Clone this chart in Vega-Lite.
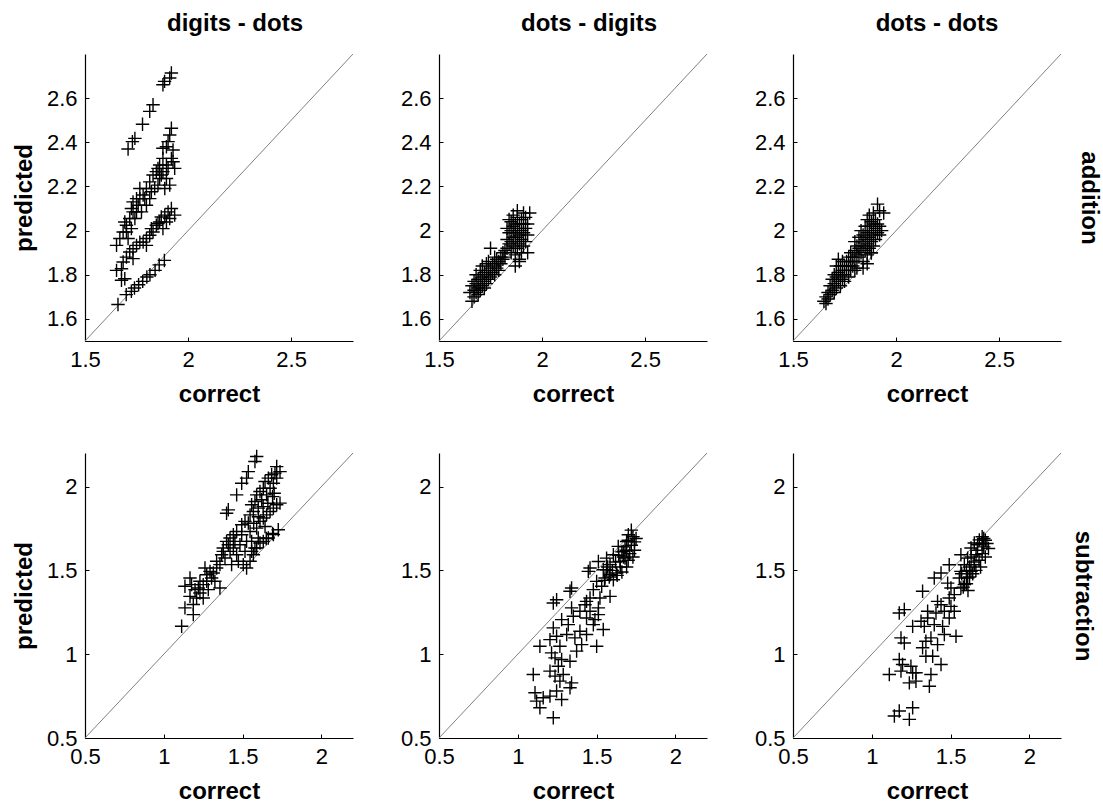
{
"$schema": "https://vega.github.io/schema/vega-lite/v6.json",
"background": "white",
"padding": {"left": 12, "top": 11, "right": 5, "bottom": 0},
"config": {
  "view": {"stroke": null},
  "axis": {"grid": false, "domainColor": "#000000", "domainWidth": 1.2, "tickColor": "#000000", "tickSize": -4, "tickWidth": 1, "labelFont": "Liberation Sans", "labelFontSize": 22, "labelColor": "#000000", "labelPadding": 12, "labelFlush": false, "labelOverlap": false, "titleFont": "Liberation Sans", "titleFontSize": 24, "titleFontWeight": "bold", "titleColor": "#000000"},
  "title": {"font": "Liberation Sans", "fontSize": 24, "fontWeight": "bold", "color": "#000000", "frame": "group", "baseline": "alphabetic", "offset": 18}
},
"datasets": {
  "diag1": [{"lo": 1.5, "hi": 2.8}],
  "diag2": [{"lo": 0.5, "hi": 2.2}],
  "d1": [
    {"correct":1.919,"predicted":2.714},{"correct":1.911,"predicted":2.691},{"correct":1.886,"predicted":2.676},{"correct":1.878,"predicted":2.661},{"correct":1.830,"predicted":2.570},{"correct":1.814,"predicted":2.540},{"correct":1.779,"predicted":2.482},{"correct":1.742,"predicted":2.418},{"correct":1.730,"predicted":2.403},{"correct":1.709,"predicted":2.370},
    {"correct":1.919,"predicted":2.464},{"correct":1.911,"predicted":2.433},{"correct":1.903,"predicted":2.403},{"correct":1.927,"predicted":2.365},{"correct":1.895,"predicted":2.380},{"correct":1.878,"predicted":2.327},{"correct":1.919,"predicted":2.327},{"correct":1.935,"predicted":2.282},{"correct":1.862,"predicted":2.297},{"correct":1.846,"predicted":2.267},{"correct":1.870,"predicted":2.252},{"correct":1.895,"predicted":2.236},{"correct":1.911,"predicted":2.206},{"correct":1.887,"predicted":2.191},{"correct":1.854,"predicted":2.206},{"correct":1.830,"predicted":2.252},{"correct":1.814,"predicted":2.221},{"correct":1.798,"predicted":2.191},{"correct":1.782,"predicted":2.161},{"correct":1.766,"predicted":2.191},{"correct":1.750,"predicted":2.145},{"correct":1.733,"predicted":2.130},{"correct":1.758,"predicted":2.115},{"correct":1.774,"predicted":2.085},{"correct":1.733,"predicted":2.085},{"correct":1.717,"predicted":2.055},{"correct":1.701,"predicted":2.024},{"correct":1.685,"predicted":1.994},{"correct":1.725,"predicted":2.009},{"correct":1.709,"predicted":1.964},{"correct":1.669,"predicted":1.964},{"correct":1.653,"predicted":1.933},{"correct":1.693,"predicted":2.039},{"correct":1.742,"predicted":2.055},{"correct":1.798,"predicted":2.115},{"correct":1.822,"predicted":2.176},{"correct":1.862,"predicted":2.236},{"correct":1.895,"predicted":2.297},{"correct":1.878,"predicted":2.373},{"correct":1.903,"predicted":2.282},{"correct":1.838,"predicted":2.191},{"correct":1.766,"predicted":2.145},{"correct":1.750,"predicted":2.085},{"correct":1.701,"predicted":1.994},{"correct":1.725,"predicted":2.100},{"correct":1.790,"predicted":2.145},{"correct":1.854,"predicted":2.282},{"correct":1.878,"predicted":2.267},{"correct":1.927,"predicted":2.312},{"correct":1.814,"predicted":2.145},
    {"correct":1.653,"predicted":1.820},{"correct":1.677,"predicted":1.827},{"correct":1.685,"predicted":1.858},{"correct":1.701,"predicted":1.880},{"correct":1.717,"predicted":1.903},{"correct":1.733,"predicted":1.918},{"correct":1.750,"predicted":1.933},{"correct":1.766,"predicted":1.948},{"correct":1.782,"predicted":1.948},{"correct":1.798,"predicted":1.964},{"correct":1.814,"predicted":1.979},{"correct":1.822,"predicted":2.009},{"correct":1.830,"predicted":1.994},{"correct":1.846,"predicted":2.024},{"correct":1.862,"predicted":2.039},{"correct":1.870,"predicted":2.062},{"correct":1.887,"predicted":2.070},{"correct":1.903,"predicted":2.085},{"correct":1.919,"predicted":2.100},{"correct":1.935,"predicted":2.070},{"correct":1.911,"predicted":2.055},{"correct":1.895,"predicted":2.039},{"correct":1.878,"predicted":2.009},{"correct":1.854,"predicted":2.032},{"correct":1.798,"predicted":1.933},{"correct":1.733,"predicted":1.873},{"correct":1.693,"predicted":1.782},{"correct":1.677,"predicted":1.775},
    {"correct":1.660,"predicted":1.665},{"correct":1.700,"predicted":1.710},{"correct":1.725,"predicted":1.725},{"correct":1.740,"predicted":1.740},{"correct":1.760,"predicted":1.755},{"correct":1.780,"predicted":1.770},{"correct":1.800,"predicted":1.790},{"correct":1.815,"predicted":1.800},{"correct":1.840,"predicted":1.820},{"correct":1.860,"predicted":1.845},{"correct":1.885,"predicted":1.865}
  ],
  "d2": [
    {"correct":1.65,"predicted":1.72},{"correct":1.66,"predicted":1.68},{"correct":1.66,"predicted":1.75},{"correct":1.67,"predicted":1.70},{"correct":1.67,"predicted":1.73},{"correct":1.67,"predicted":1.77},{"correct":1.68,"predicted":1.72},{"correct":1.68,"predicted":1.76},{"correct":1.68,"predicted":1.80},{"correct":1.69,"predicted":1.71},{"correct":1.69,"predicted":1.74},{"correct":1.69,"predicted":1.78},{"correct":1.70,"predicted":1.73},{"correct":1.70,"predicted":1.76},{"correct":1.70,"predicted":1.82},{"correct":1.71,"predicted":1.75},{"correct":1.71,"predicted":1.79},{"correct":1.71,"predicted":1.84},{"correct":1.72,"predicted":1.74},{"correct":1.72,"predicted":1.77},{"correct":1.72,"predicted":1.81},{"correct":1.73,"predicted":1.76},{"correct":1.73,"predicted":1.80},{"correct":1.73,"predicted":1.85},{"correct":1.74,"predicted":1.78},{"correct":1.74,"predicted":1.82},{"correct":1.74,"predicted":1.86},{"correct":1.75,"predicted":1.79},{"correct":1.75,"predicted":1.83},{"correct":1.75,"predicted":1.92},{"correct":1.76,"predicted":1.81},{"correct":1.76,"predicted":1.85},{"correct":1.77,"predicted":1.80},{"correct":1.77,"predicted":1.84},{"correct":1.77,"predicted":1.88},{"correct":1.78,"predicted":1.83},{"correct":1.78,"predicted":1.87},{"correct":1.79,"predicted":1.86},{"correct":1.79,"predicted":1.82},{"correct":1.80,"predicted":1.88},{"correct":1.80,"predicted":1.85},{"correct":1.81,"predicted":1.87},{"correct":1.81,"predicted":1.90},{"correct":1.82,"predicted":1.88},{"correct":1.82,"predicted":1.91},
    {"correct":1.83,"predicted":1.92},{"correct":1.83,"predicted":1.96},{"correct":1.83,"predicted":2.01},{"correct":1.84,"predicted":1.94},{"correct":1.84,"predicted":1.99},{"correct":1.84,"predicted":2.05},{"correct":1.85,"predicted":1.90},{"correct":1.85,"predicted":1.95},{"correct":1.85,"predicted":2.00},{"correct":1.85,"predicted":2.04},{"correct":1.86,"predicted":1.93},{"correct":1.86,"predicted":1.97},{"correct":1.86,"predicted":2.02},{"correct":1.86,"predicted":2.07},{"correct":1.87,"predicted":1.89},{"correct":1.87,"predicted":1.95},{"correct":1.87,"predicted":1.99},{"correct":1.87,"predicted":2.03},{"correct":1.88,"predicted":1.92},{"correct":1.88,"predicted":1.97},{"correct":1.88,"predicted":2.01},{"correct":1.88,"predicted":2.06},{"correct":1.88,"predicted":2.09},{"correct":1.89,"predicted":1.86},{"correct":1.89,"predicted":1.94},{"correct":1.89,"predicted":1.98},{"correct":1.89,"predicted":2.03},{"correct":1.90,"predicted":1.90},{"correct":1.90,"predicted":1.96},{"correct":1.90,"predicted":2.00},{"correct":1.90,"predicted":2.05},{"correct":1.91,"predicted":1.93},{"correct":1.91,"predicted":1.99},{"correct":1.91,"predicted":2.03},{"correct":1.91,"predicted":2.08},{"correct":1.92,"predicted":1.95},{"correct":1.92,"predicted":2.01},{"correct":1.92,"predicted":2.06},{"correct":1.93,"predicted":1.90},{"correct":1.93,"predicted":1.98},{"correct":1.93,"predicted":2.03},{"correct":1.94,"predicted":2.08},{"correct":1.87,"predicted":1.84},{"correct":1.89,"predicted":1.87}
  ],
  "d3": [
    {"correct":1.65,"predicted":1.68},{"correct":1.66,"predicted":1.70},{"correct":1.66,"predicted":1.67},{"correct":1.67,"predicted":1.72},{"correct":1.67,"predicted":1.69},{"correct":1.68,"predicted":1.75},{"correct":1.68,"predicted":1.71},{"correct":1.69,"predicted":1.78},{"correct":1.69,"predicted":1.73},{"correct":1.70,"predicted":1.76},{"correct":1.70,"predicted":1.80},{"correct":1.70,"predicted":1.72},{"correct":1.71,"predicted":1.74},{"correct":1.71,"predicted":1.79},{"correct":1.71,"predicted":1.84},{"correct":1.72,"predicted":1.77},{"correct":1.72,"predicted":1.81},{"correct":1.72,"predicted":1.87},{"correct":1.73,"predicted":1.75},{"correct":1.73,"predicted":1.80},{"correct":1.73,"predicted":1.84},{"correct":1.74,"predicted":1.78},{"correct":1.74,"predicted":1.82},{"correct":1.74,"predicted":1.86},{"correct":1.75,"predicted":1.80},{"correct":1.75,"predicted":1.84},{"correct":1.75,"predicted":1.77},{"correct":1.76,"predicted":1.82},{"correct":1.76,"predicted":1.86},{"correct":1.77,"predicted":1.79},{"correct":1.77,"predicted":1.84},{"correct":1.77,"predicted":1.88},{"correct":1.78,"predicted":1.82},{"correct":1.78,"predicted":1.86},{"correct":1.78,"predicted":1.90},{"correct":1.79,"predicted":1.84},{"correct":1.79,"predicted":1.88},{"correct":1.80,"predicted":1.86},{"correct":1.80,"predicted":1.91},{"correct":1.80,"predicted":1.95},{"correct":1.81,"predicted":1.83},{"correct":1.81,"predicted":1.89},{"correct":1.81,"predicted":1.93},{"correct":1.82,"predicted":1.88},{"correct":1.82,"predicted":1.92},{"correct":1.82,"predicted":1.97},{"correct":1.83,"predicted":1.90},{"correct":1.83,"predicted":1.95},{"correct":1.83,"predicted":2.00},{"correct":1.84,"predicted":1.86},{"correct":1.84,"predicted":1.93},{"correct":1.84,"predicted":1.98},{"correct":1.85,"predicted":1.91},{"correct":1.85,"predicted":1.96},{"correct":1.85,"predicted":2.02},{"correct":1.86,"predicted":1.89},{"correct":1.86,"predicted":1.94},{"correct":1.86,"predicted":1.99},{"correct":1.86,"predicted":2.05},{"correct":1.87,"predicted":1.92},{"correct":1.87,"predicted":1.97},{"correct":1.87,"predicted":2.02},{"correct":1.87,"predicted":2.07},{"correct":1.88,"predicted":1.90},{"correct":1.88,"predicted":1.95},{"correct":1.88,"predicted":2.00},{"correct":1.88,"predicted":2.04},{"correct":1.89,"predicted":1.93},{"correct":1.89,"predicted":1.98},{"correct":1.89,"predicted":2.03},{"correct":1.89,"predicted":2.08},{"correct":1.90,"predicted":1.96},{"correct":1.90,"predicted":2.01},{"correct":1.90,"predicted":2.05},{"correct":1.91,"predicted":1.99},{"correct":1.91,"predicted":2.03},{"correct":1.91,"predicted":2.12},{"correct":1.92,"predicted":1.98},{"correct":1.92,"predicted":2.02},{"correct":1.92,"predicted":2.09},{"correct":1.93,"predicted":2.00},{"correct":1.94,"predicted":2.08},{"correct":1.84,"predicted":1.83},{"correct":1.86,"predicted":1.85},{"correct":1.80,"predicted":1.82},{"correct":1.88,"predicted":1.90}
  ],
  "d4": [
    {"correct":1.113,"predicted":1.167},{"correct":1.134,"predicted":1.405},{"correct":1.166,"predicted":1.454},{"correct":1.134,"predicted":1.276},{"correct":1.166,"predicted":1.345},{"correct":1.187,"predicted":1.296},{"correct":1.187,"predicted":1.236},{"correct":1.208,"predicted":1.335},{"correct":1.219,"predicted":1.395},{"correct":1.229,"predicted":1.365},{"correct":1.250,"predicted":1.415},{"correct":1.250,"predicted":1.335},{"correct":1.272,"predicted":1.435},{"correct":1.282,"predicted":1.385},{"correct":1.303,"predicted":1.454},{"correct":1.314,"predicted":1.484},{"correct":1.335,"predicted":1.514},{"correct":1.324,"predicted":1.435},{"correct":1.356,"predicted":1.395},{"correct":1.335,"predicted":1.554},{"correct":1.356,"predicted":1.534},{"correct":1.377,"predicted":1.613},{"correct":1.388,"predicted":1.574},{"correct":1.409,"predicted":1.653},{"correct":1.420,"predicted":1.613},{"correct":1.441,"predicted":1.633},{"correct":1.451,"predicted":1.673},{"correct":1.462,"predicted":1.593},{"correct":1.430,"predicted":1.534},{"correct":1.483,"predicted":1.653},{"correct":1.473,"predicted":1.554},{"correct":1.504,"predicted":1.534},{"correct":1.525,"predicted":1.514},{"correct":1.494,"predicted":1.772},{"correct":1.515,"predicted":1.792},{"correct":1.536,"predicted":1.782},{"correct":1.547,"predicted":1.831},{"correct":1.557,"predicted":1.891},{"correct":1.578,"predicted":1.911},{"correct":1.589,"predicted":1.950},{"correct":1.610,"predicted":1.970},{"correct":1.631,"predicted":1.990},{"correct":1.642,"predicted":2.030},{"correct":1.663,"predicted":2.050},{"correct":1.684,"predicted":2.070},{"correct":1.705,"predicted":2.080},{"correct":1.695,"predicted":2.020},{"correct":1.674,"predicted":1.990},{"correct":1.652,"predicted":1.950},{"correct":1.621,"predicted":1.921},{"correct":1.599,"predicted":1.871},{"correct":1.568,"predicted":1.851},{"correct":1.716,"predicted":2.119},{"correct":1.737,"predicted":2.089},{"correct":1.716,"predicted":2.050},{"correct":1.578,"predicted":2.149},{"correct":1.589,"predicted":2.179},{"correct":1.536,"predicted":2.089},{"correct":1.525,"predicted":2.050},{"correct":1.494,"predicted":2.020},{"correct":1.462,"predicted":1.950},{"correct":1.409,"predicted":1.861},{"correct":1.398,"predicted":1.841},{"correct":1.547,"predicted":1.732},{"correct":1.589,"predicted":1.752},{"correct":1.610,"predicted":1.792},{"correct":1.631,"predicted":1.812},{"correct":1.652,"predicted":1.831},{"correct":1.674,"predicted":1.851},{"correct":1.695,"predicted":1.871},{"correct":1.716,"predicted":1.891},{"correct":1.737,"predicted":1.901},{"correct":1.642,"predicted":1.762},{"correct":1.599,"predicted":1.693},{"correct":1.631,"predicted":1.673},{"correct":1.663,"predicted":1.693},{"correct":1.695,"predicted":1.713},{"correct":1.726,"predicted":1.742},{"correct":1.589,"predicted":1.633},{"correct":1.568,"predicted":1.593},{"correct":1.547,"predicted":1.554},{"correct":1.515,"predicted":1.613},{"correct":1.525,"predicted":1.673},{"correct":1.557,"predicted":1.673},{"correct":1.494,"predicted":1.712},{"correct":1.462,"predicted":1.732},{"correct":1.441,"predicted":1.712},{"correct":1.420,"predicted":1.693},{"correct":1.398,"predicted":1.673},{"correct":1.377,"predicted":1.633},{"correct":1.367,"predicted":1.593},{"correct":1.293,"predicted":1.494},{"correct":1.272,"predicted":1.474},{"correct":1.229,"predicted":1.435},{"correct":1.176,"predicted":1.415},{"correct":1.198,"predicted":1.385},{"correct":1.261,"predicted":1.514},{"correct":1.557,"predicted":1.613},{"correct":1.578,"predicted":1.633},{"correct":1.610,"predicted":1.663},{"correct":1.650,"predicted":1.690},{"correct":1.690,"predicted":1.720},{"correct":1.700,"predicted":1.960},{"correct":1.690,"predicted":1.940},{"correct":1.660,"predicted":1.900},{"correct":1.630,"predicted":1.880},{"correct":1.600,"predicted":1.820},{"correct":1.570,"predicted":1.780}
  ],
  "d5": [
    {"correct":1.225,"predicted":0.621},{"correct":1.140,"predicted":0.680},{"correct":1.119,"predicted":0.720},{"correct":1.161,"predicted":0.740},{"correct":1.109,"predicted":0.770},{"correct":1.204,"predicted":0.750},{"correct":1.278,"predicted":0.730},{"correct":1.246,"predicted":0.780},{"correct":1.331,"predicted":0.800},{"correct":1.341,"predicted":0.829},{"correct":1.267,"predicted":0.839},{"correct":1.236,"predicted":0.869},{"correct":1.288,"predicted":0.879},{"correct":1.098,"predicted":0.879},{"correct":1.204,"predicted":0.899},{"correct":1.257,"predicted":0.928},{"correct":1.331,"predicted":0.958},{"correct":1.278,"predicted":0.968},{"correct":1.236,"predicted":0.978},{"correct":1.214,"predicted":1.008},{"correct":1.140,"predicted":1.047},{"correct":1.267,"predicted":1.047},{"correct":1.373,"predicted":1.018},{"correct":1.405,"predicted":1.057},{"correct":1.500,"predicted":1.047},{"correct":1.204,"predicted":1.087},{"correct":1.246,"predicted":1.107},{"correct":1.310,"predicted":1.117},{"correct":1.362,"predicted":1.097},{"correct":1.394,"predicted":1.137},{"correct":1.436,"predicted":1.117},{"correct":1.479,"predicted":1.176},{"correct":1.542,"predicted":1.147},{"correct":1.225,"predicted":1.157},{"correct":1.320,"predicted":1.176},{"correct":1.278,"predicted":1.206},{"correct":1.352,"predicted":1.226},{"correct":1.394,"predicted":1.256},{"correct":1.341,"predicted":1.276},{"correct":1.436,"predicted":1.216},{"correct":1.489,"predicted":1.206},{"correct":1.458,"predicted":1.256},{"correct":1.511,"predicted":1.236},{"correct":1.426,"predicted":1.295},{"correct":1.511,"predicted":1.276},{"correct":1.585,"predicted":1.345},{"correct":1.521,"predicted":1.335},{"correct":1.458,"predicted":1.335},{"correct":1.436,"predicted":1.315},{"correct":1.225,"predicted":1.305},{"correct":1.246,"predicted":1.325},{"correct":1.331,"predicted":1.375},{"correct":1.341,"predicted":1.395},{"correct":1.479,"predicted":1.385},{"correct":1.532,"predicted":1.405},{"correct":1.500,"predicted":1.434},{"correct":1.553,"predicted":1.454},{"correct":1.606,"predicted":1.444},{"correct":1.447,"predicted":1.494},{"correct":1.458,"predicted":1.514},{"correct":1.511,"predicted":1.553},{"correct":1.563,"predicted":1.504},{"correct":1.585,"predicted":1.534},{"correct":1.627,"predicted":1.484},{"correct":1.648,"predicted":1.553},{"correct":1.606,"predicted":1.593},{"correct":1.669,"predicted":1.613},{"correct":1.637,"predicted":1.643},{"correct":1.690,"predicted":1.672},{"correct":1.701,"predicted":1.712},{"correct":1.680,"predicted":1.573},{"correct":1.563,"predicted":1.573},{"correct":1.542,"predicted":1.504},{"correct":1.585,"predicted":1.474},
    {"correct":1.72,"predicted":1.74},{"correct":1.73,"predicted":1.70},{"correct":1.74,"predicted":1.67},{"correct":1.72,"predicted":1.65},{"correct":1.74,"predicted":1.62},{"correct":1.71,"predicted":1.60},{"correct":1.70,"predicted":1.56},{"correct":1.73,"predicted":1.58},{"correct":1.69,"predicted":1.52},{"correct":1.66,"predicted":1.49},{"correct":1.68,"predicted":1.64},{"correct":1.70,"predicted":1.68},{"correct":1.75,"predicted":1.69},{"correct":1.67,"predicted":1.58},{"correct":1.65,"predicted":1.52},{"correct":1.63,"predicted":1.47},{"correct":1.62,"predicted":1.55},{"correct":1.60,"predicted":1.50},{"correct":1.58,"predicted":1.46},{"correct":1.57,"predicted":1.52},{"correct":1.55,"predicted":1.44},{"correct":1.66,"predicted":1.61},{"correct":1.64,"predicted":1.59},{"correct":1.69,"predicted":1.62}
  ],
  "d6": [
    {"correct":1.238,"predicted":0.611},{"correct":1.143,"predicted":0.631},{"correct":1.174,"predicted":0.661},{"correct":1.259,"predicted":0.680},{"correct":1.111,"predicted":0.879},{"correct":1.185,"predicted":0.899},{"correct":1.259,"predicted":0.889},{"correct":1.280,"predicted":0.889},{"correct":1.238,"predicted":0.829},{"correct":1.280,"predicted":0.839},{"correct":1.365,"predicted":0.809},{"correct":1.375,"predicted":0.879},{"correct":1.439,"predicted":0.938},{"correct":1.174,"predicted":0.968},{"correct":1.195,"predicted":0.938},{"correct":1.248,"predicted":0.928},{"correct":1.343,"predicted":0.988},{"correct":1.386,"predicted":0.988},{"correct":1.322,"predicted":1.038},{"correct":1.417,"predicted":1.057},{"correct":1.206,"predicted":1.067},{"correct":1.185,"predicted":1.097},{"correct":1.343,"predicted":1.077},{"correct":1.375,"predicted":1.097},{"correct":1.460,"predicted":1.117},{"correct":1.534,"predicted":1.107},{"correct":1.259,"predicted":1.166},{"correct":1.333,"predicted":1.166},{"correct":1.396,"predicted":1.176},{"correct":1.449,"predicted":1.166},{"correct":1.491,"predicted":1.216},{"correct":1.312,"predicted":1.196},{"correct":1.354,"predicted":1.216},{"correct":1.174,"predicted":1.246},{"correct":1.206,"predicted":1.266},{"correct":1.354,"predicted":1.256},{"correct":1.407,"predicted":1.246},{"correct":1.460,"predicted":1.256},{"correct":1.523,"predicted":1.256},{"correct":1.439,"predicted":1.295},{"correct":1.502,"predicted":1.285},{"correct":1.417,"predicted":1.315},{"correct":1.491,"predicted":1.335},{"correct":1.523,"predicted":1.355},{"correct":1.502,"predicted":1.395},{"correct":1.481,"predicted":1.424},{"correct":1.322,"predicted":1.375},{"correct":1.396,"predicted":1.454},{"correct":1.439,"predicted":1.484},{"correct":1.491,"predicted":1.533},{"correct":1.565,"predicted":1.395},{"correct":1.587,"predicted":1.415},{"correct":1.555,"predicted":1.454},{"correct":1.608,"predicted":1.454},{"correct":1.565,"predicted":1.494},{"correct":1.629,"predicted":1.494},{"correct":1.587,"predicted":1.533},{"correct":1.650,"predicted":1.533},{"correct":1.608,"predicted":1.573},{"correct":1.565,"predicted":1.593},{"correct":1.661,"predicted":1.593},{"correct":1.629,"predicted":1.633},{"correct":1.671,"predicted":1.653},{"correct":1.682,"predicted":1.682},{"correct":1.650,"predicted":1.663},
    {"correct":1.70,"predicted":1.70},{"correct":1.72,"predicted":1.68},{"correct":1.73,"predicted":1.66},{"correct":1.71,"predicted":1.64},{"correct":1.74,"predicted":1.63},{"correct":1.70,"predicted":1.60},{"correct":1.72,"predicted":1.58},{"correct":1.68,"predicted":1.56},{"correct":1.69,"predicted":1.52},{"correct":1.66,"predicted":1.50},{"correct":1.64,"predicted":1.48},{"correct":1.62,"predicted":1.46},{"correct":1.60,"predicted":1.42},{"correct":1.58,"predicted":1.40},{"correct":1.61,"predicted":1.38},{"correct":1.70,"predicted":1.66},{"correct":1.71,"predicted":1.69},{"correct":1.67,"predicted":1.62},{"correct":1.65,"predicted":1.55},{"correct":1.62,"predicted":1.52},{"correct":1.60,"predicted":1.50},{"correct":1.63,"predicted":1.58},{"correct":1.57,"predicted":1.48}
  ]
},
"columns": 3,
"spacing": {"row": 112, "column": 86},
"bounds": "flush",
"concat": [
  {
    "width": 268, "height": 287,
    "title": {"text": "digits - dots", "dx": 16},
    "layer": [
      {"data": {"name": "diag1"}, "mark": {"type": "rule", "color": "#808080", "strokeWidth": 1},
       "encoding": {
         "x": {"field": "lo", "type": "quantitative", "scale": {"domain": [1.5, 2.8], "nice": false, "zero": false}, "axis": {"values": [1.5, 2, 2.5], "format": "~g", "title": "correct", "titleY": 60, "titleBaseline": "alphabetic"}},
         "y": {"field": "lo", "type": "quantitative", "scale": {"domain": [1.5, 2.8], "nice": false, "zero": false}, "axis": {"values": [1.6, 1.8, 2, 2.2, 2.4, 2.6], "format": "~g", "title": "predicted", "titleX": -54, "titleBaseline": "alphabetic"}},
         "x2": {"field": "hi"}, "y2": {"field": "hi"}}},
      {"data": {"name": "d1"}, "mark": {"type": "point", "shape": "M-1,0H1M0,-1V1", "filled": false, "size": 180, "strokeWidth": 1.4, "color": "#000000", "opacity": 1},
       "encoding": {
         "x": {"field": "correct", "type": "quantitative", "scale": {"domain": [1.5, 2.8], "nice": false, "zero": false}, "axis": {"values": [1.5, 2, 2.5], "format": "~g", "title": "correct", "titleY": 60, "titleBaseline": "alphabetic"}},
         "y": {"field": "predicted", "type": "quantitative", "scale": {"domain": [1.5, 2.8], "nice": false, "zero": false}, "axis": {"values": [1.6, 1.8, 2, 2.2, 2.4, 2.6], "format": "~g", "title": "predicted", "titleX": -54, "titleBaseline": "alphabetic"}}}}
    ]
  },
  {
    "width": 268, "height": 287,
    "title": {"text": "dots - digits", "dx": 16},
    "layer": [
      {"data": {"name": "diag1"}, "mark": {"type": "rule", "color": "#808080", "strokeWidth": 1},
       "encoding": {
         "x": {"field": "lo", "type": "quantitative", "scale": {"domain": [1.5, 2.8], "nice": false, "zero": false}, "axis": {"values": [1.5, 2, 2.5], "format": "~g", "title": "correct", "titleY": 60, "titleBaseline": "alphabetic"}},
         "y": {"field": "lo", "type": "quantitative", "scale": {"domain": [1.5, 2.8], "nice": false, "zero": false}, "axis": {"values": [1.6, 1.8, 2, 2.2, 2.4, 2.6], "format": "~g", "title": null}},
         "x2": {"field": "hi"}, "y2": {"field": "hi"}}},
      {"data": {"name": "d2"}, "mark": {"type": "point", "shape": "M-1,0H1M0,-1V1", "filled": false, "size": 180, "strokeWidth": 1.4, "color": "#000000", "opacity": 1},
       "encoding": {
         "x": {"field": "correct", "type": "quantitative", "scale": {"domain": [1.5, 2.8], "nice": false, "zero": false}, "axis": {"values": [1.5, 2, 2.5], "format": "~g", "title": "correct", "titleY": 60, "titleBaseline": "alphabetic"}},
         "y": {"field": "predicted", "type": "quantitative", "scale": {"domain": [1.5, 2.8], "nice": false, "zero": false}, "axis": {"values": [1.6, 1.8, 2, 2.2, 2.4, 2.6], "format": "~g", "title": null}}}}
    ]
  },
  {
    "width": 268, "height": 287,
    "title": {"text": "dots - dots", "dx": 10},
    "resolve": {"axis": {"y": "independent"}},
    "layer": [
      {"data": {"name": "diag1"}, "mark": {"type": "rule", "color": "#808080", "strokeWidth": 1},
       "encoding": {
         "x": {"field": "lo", "type": "quantitative", "scale": {"domain": [1.5, 2.8], "nice": false, "zero": false}, "axis": {"values": [1.5, 2, 2.5], "format": "~g", "title": "correct", "titleY": 60, "titleBaseline": "alphabetic"}},
         "y": {"field": "lo", "type": "quantitative", "scale": {"domain": [1.5, 2.8], "nice": false, "zero": false}, "axis": {"orient": "right", "labels": false, "ticks": false, "domain": false, "title": "addition", "titleAngle": 90, "titleX": 20, "titleBaseline": "alphabetic"}},
         "x2": {"field": "hi"}, "y2": {"field": "hi"}}},
      {"data": {"name": "d3"}, "mark": {"type": "point", "shape": "M-1,0H1M0,-1V1", "filled": false, "size": 180, "strokeWidth": 1.4, "color": "#000000", "opacity": 1},
       "encoding": {
         "x": {"field": "correct", "type": "quantitative", "scale": {"domain": [1.5, 2.8], "nice": false, "zero": false}, "axis": {"values": [1.5, 2, 2.5], "format": "~g", "title": "correct", "titleY": 60, "titleBaseline": "alphabetic"}},
         "y": {"field": "predicted", "type": "quantitative", "scale": {"domain": [1.5, 2.8], "nice": false, "zero": false}, "axis": {"values": [1.6, 1.8, 2, 2.2, 2.4, 2.6], "format": "~g", "title": null}}}}
    ]
  },
  {
    "width": 268, "height": 285,
    "layer": [
      {"data": {"name": "diag2"}, "mark": {"type": "rule", "color": "#808080", "strokeWidth": 1},
       "encoding": {
         "x": {"field": "lo", "type": "quantitative", "scale": {"domain": [0.5, 2.2], "nice": false, "zero": false}, "axis": {"values": [0.5, 1, 1.5, 2], "format": "~g", "title": "correct", "titleY": 60, "titleBaseline": "alphabetic"}},
         "y": {"field": "lo", "type": "quantitative", "scale": {"domain": [0.5, 2.2], "nice": false, "zero": false}, "axis": {"values": [0.5, 1, 1.5, 2], "format": "~g", "title": "predicted", "titleX": -54, "titleBaseline": "alphabetic"}},
         "x2": {"field": "hi"}, "y2": {"field": "hi"}}},
      {"data": {"name": "d4"}, "mark": {"type": "point", "shape": "M-1,0H1M0,-1V1", "filled": false, "size": 180, "strokeWidth": 1.4, "color": "#000000", "opacity": 1},
       "encoding": {
         "x": {"field": "correct", "type": "quantitative", "scale": {"domain": [0.5, 2.2], "nice": false, "zero": false}, "axis": {"values": [0.5, 1, 1.5, 2], "format": "~g", "title": "correct", "titleY": 60, "titleBaseline": "alphabetic"}},
         "y": {"field": "predicted", "type": "quantitative", "scale": {"domain": [0.5, 2.2], "nice": false, "zero": false}, "axis": {"values": [0.5, 1, 1.5, 2], "format": "~g", "title": "predicted", "titleX": -54, "titleBaseline": "alphabetic"}}}}
    ]
  },
  {
    "width": 268, "height": 285,
    "layer": [
      {"data": {"name": "diag2"}, "mark": {"type": "rule", "color": "#808080", "strokeWidth": 1},
       "encoding": {
         "x": {"field": "lo", "type": "quantitative", "scale": {"domain": [0.5, 2.2], "nice": false, "zero": false}, "axis": {"values": [0.5, 1, 1.5, 2], "format": "~g", "title": "correct", "titleY": 60, "titleBaseline": "alphabetic"}},
         "y": {"field": "lo", "type": "quantitative", "scale": {"domain": [0.5, 2.2], "nice": false, "zero": false}, "axis": {"values": [0.5, 1, 1.5, 2], "format": "~g", "title": null}},
         "x2": {"field": "hi"}, "y2": {"field": "hi"}}},
      {"data": {"name": "d5"}, "mark": {"type": "point", "shape": "M-1,0H1M0,-1V1", "filled": false, "size": 180, "strokeWidth": 1.4, "color": "#000000", "opacity": 1},
       "encoding": {
         "x": {"field": "correct", "type": "quantitative", "scale": {"domain": [0.5, 2.2], "nice": false, "zero": false}, "axis": {"values": [0.5, 1, 1.5, 2], "format": "~g", "title": "correct", "titleY": 60, "titleBaseline": "alphabetic"}},
         "y": {"field": "predicted", "type": "quantitative", "scale": {"domain": [0.5, 2.2], "nice": false, "zero": false}, "axis": {"values": [0.5, 1, 1.5, 2], "format": "~g", "title": null}}}}
    ]
  },
  {
    "width": 268, "height": 285,
    "resolve": {"axis": {"y": "independent"}},
    "layer": [
      {"data": {"name": "diag2"}, "mark": {"type": "rule", "color": "#808080", "strokeWidth": 1},
       "encoding": {
         "x": {"field": "lo", "type": "quantitative", "scale": {"domain": [0.5, 2.2], "nice": false, "zero": false}, "axis": {"values": [0.5, 1, 1.5, 2], "format": "~g", "title": "correct", "titleY": 60, "titleBaseline": "alphabetic"}},
         "y": {"field": "lo", "type": "quantitative", "scale": {"domain": [0.5, 2.2], "nice": false, "zero": false}, "axis": {"orient": "right", "labels": false, "ticks": false, "domain": false, "title": "subtraction", "titleAngle": 90, "titleX": 14, "titleBaseline": "alphabetic"}},
         "x2": {"field": "hi"}, "y2": {"field": "hi"}}},
      {"data": {"name": "d6"}, "mark": {"type": "point", "shape": "M-1,0H1M0,-1V1", "filled": false, "size": 180, "strokeWidth": 1.4, "color": "#000000", "opacity": 1},
       "encoding": {
         "x": {"field": "correct", "type": "quantitative", "scale": {"domain": [0.5, 2.2], "nice": false, "zero": false}, "axis": {"values": [0.5, 1, 1.5, 2], "format": "~g", "title": "correct", "titleY": 60, "titleBaseline": "alphabetic"}},
         "y": {"field": "predicted", "type": "quantitative", "scale": {"domain": [0.5, 2.2], "nice": false, "zero": false}, "axis": {"values": [0.5, 1, 1.5, 2], "format": "~g", "title": null}}}}
    ]
  }
]
}
